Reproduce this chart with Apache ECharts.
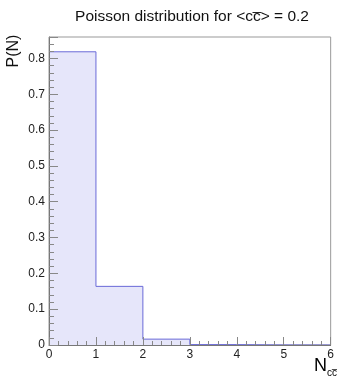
<!DOCTYPE html>
<html>
<head>
<meta charset="utf-8">
<script src="https://cdn.jsdelivr.net/npm/echarts@6/dist/echarts.min.js"></script>
<style>
  html, body { margin: 0; padding: 0; background: #fff; }
  #chart { width: 337px; height: 377px; }
</style>
</head>
<body>
<div id="chart"></div>
<script>
// bin low edges and Poisson probabilities for mean 0.2
const binEdges = [0, 1, 2, 3, 4, 5, 6];
const probs = [0.8187, 0.1637, 0.0164, 0.0011, 0.0001, 0.0];
const yTicks = [0, 0.1, 0.2, 0.3, 0.4, 0.5, 0.6, 0.7, 0.8];

const font = 'Liberation Sans, Arial, Helvetica, sans-serif';

// step polyline: each bin starts at its low edge, last edge closes it
const stepData = binEdges.map((e, i) => [e, i < probs.length ? probs[i] : 0]);

const chart = echarts.init(document.getElementById('chart'));

chart.setOption({
  animation: false,
  title: {
    text: 'Poisson distribution for <cc\u0305> = 0.2',
    left: 187,
    top: 4,
    textAlign: 'center',
    textStyle: { fontFamily: font, fontSize: 15.5, fontWeight: 'normal', color: '#111' }
  },
  grid: {
    left: 49, right: 2, top: 37, bottom: 32,
    show: true, borderColor: '#999', borderWidth: 1, backgroundColor: 'transparent'
  },
  xAxis: {
    type: 'value',
    z: 5,
    min: 0, max: 6, interval: 1,
    axisLine: { show: true, onZero: false, lineStyle: { color: '#777', width: 1 } },
    axisTick: { inside: true, length: 8, lineStyle: { color: '#888' } },
    minorTick: { show: true, splitNumber: 5, length: 4, lineStyle: { color: '#888' } },
    splitLine: { show: false },
    axisLabel: { fontFamily: font, fontSize: 12, color: '#222', margin: 4 }
  },
  yAxis: {
    type: 'value',
    z: 5,
    min: 0, max: 0.86, interval: 0.1,
    axisLine: { show: true, onZero: false, lineStyle: { color: '#777', width: 1 } },
    axisTick: { inside: true, length: 9, lineStyle: { color: '#888' } },
    minorTick: { show: true, splitNumber: 5, length: 5, lineStyle: { color: '#888' } },
    splitLine: { show: false },
    axisLabel: {
      fontFamily: font, fontSize: 12, color: '#222', margin: 4, showMaxLabel: false,
      formatter: v => {
        const t = yTicks.find(y => Math.abs(y - v) < 1e-6);
        if (t === undefined) return '';
        return t === 0 ? '0' : t.toFixed(1);
      }
    }
  },
  graphic: [
    {
      type: 'text',
      x: 14, y: 51,
      rotation: Math.PI / 2,
      style: {
        text: 'P(N)', fontFamily: font, fontSize: 16, fill: '#111',
        align: 'center', verticalAlign: 'middle'
      }
    },
    {
      type: 'text',
      x: 314, y: 357,
      style: {
        text: '{n|N}{s|cc\u0305}',
        fontFamily: font,
        rich: {
          n: { fontFamily: font, fontSize: 18, color: '#111', lineHeight: 18 },
          s: { fontFamily: font, fontSize: 10, color: '#111', padding: [14, 0, 0, 0], lineHeight: 12 }
        }
      }
    }
  ],
  series: [{
    type: 'line',
    step: 'end',
    data: stepData,
    symbol: 'none',
    lineStyle: { color: '#6a6ad8', width: 1 },
    areaStyle: { color: '#e6e6fa', opacity: 1, origin: 'start' }
  }]
});
</script>
</body>
</html>
